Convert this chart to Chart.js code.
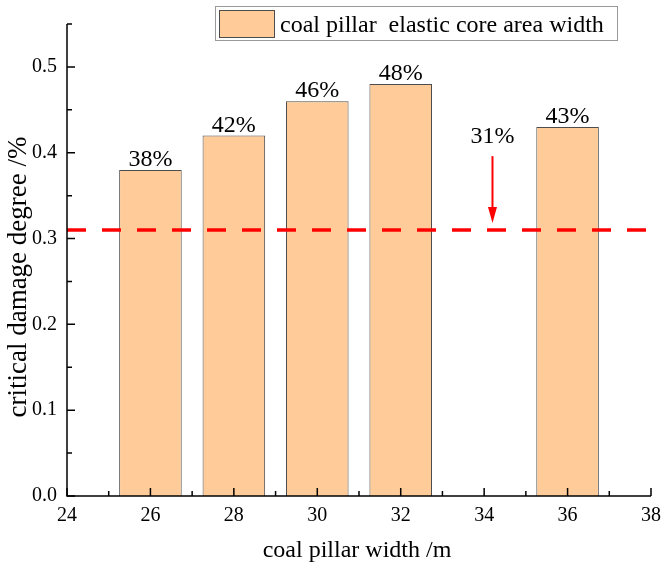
<!DOCTYPE html>
<html>
<head>
<meta charset="utf-8">
<script src="https://cdn.jsdelivr.net/npm/chart.js@4"></script>
<style>
    html, body {margin: 0; padding: 0; background: #fff;}
    canvas {display: block;}
</style>
</head>
<body>
<canvas id="chart" width="669" height="567"></canvas>
<script>
/* ============ Data ============ */
const pillarWidths = [26, 28, 30, 32, 36];
const damageDegree = [0.38, 0.42, 0.46, 0.48, 0.43];
const thresholdDegree = 0.31;
const xRange = [24, 38];
const yRange = [0, 0.55];
// arrow pointing at the threshold line (x, from y, to y, label y)
const arrowX = 34.2;
const arrowFromY = 0.396;
const arrowToY = 0.318;
const arrowLabelY = 0.411;

const seriesLabel = "coal pillar  elastic core area width";
const xTitle = "coal pillar width /m";
const yTitle = "critical damage degree /%";

/* ============ Style ============ */
const SERIF = "'Liberation Serif', 'Times New Roman', serif";
const BAR_FILL = "#ffcc99";
const BAR_EDGE = "#4d4d4d";
const RED = "#ff0000";
const pct = v => Math.round(v * 100) + "%";

Chart.defaults.font.family = SERIF;
Chart.defaults.color = "#000";

/* ============ Plugin: axes, labels, arrow, legend ============ */
const decorations = {
    id: "decorations",
    afterDatasetsDraw(chart) {
        const {ctx, chartArea: a, scales: {x, y}} = chart;
        ctx.save();

        // value labels on top of bars
        ctx.fillStyle = "#000";
        ctx.font = "24px " + SERIF;
        ctx.textAlign = "center";
        ctx.textBaseline = "alphabetic";
        chart.getDatasetMeta(0).data.forEach((bar, i) => {
            ctx.fillText(pct(damageDegree[i]), bar.x, bar.y - 4);
        });

        // arrow + threshold label
        const ax = x.getPixelForValue(arrowX);
        const y0 = y.getPixelForValue(arrowFromY);
        const y1 = y.getPixelForValue(arrowToY);
        ctx.strokeStyle = RED;
        ctx.fillStyle = RED;
        ctx.lineWidth = 2;
        ctx.beginPath();
        ctx.moveTo(ax, y0);
        ctx.lineTo(ax, y1 - 14);
        ctx.stroke();
        ctx.beginPath();
        ctx.moveTo(ax - 4.5, y1 - 16);
        ctx.lineTo(ax + 4.5, y1 - 16);
        ctx.lineTo(ax, y1);
        ctx.closePath();
        ctx.fill();
        ctx.fillStyle = "#000";
        ctx.fillText(pct(thresholdDegree), ax, y.getPixelForValue(arrowLabelY));

        // axis lines
        ctx.strokeStyle = "#000";
        ctx.lineWidth = 1.5;
        ctx.beginPath();
        ctx.moveTo(a.left, a.top);
        ctx.lineTo(a.left, a.bottom);
        ctx.lineTo(a.right, a.bottom);
        ctx.stroke();

        // inward ticks: majors from the scale, minors halfway between
        ctx.beginPath();
        x.ticks.forEach((t, i) => {
            const px = x.getPixelForValue(t.value);
            ctx.moveTo(px, a.bottom);
            ctx.lineTo(px, a.bottom - 8);
            if (i < x.ticks.length - 1) {
                const mx = x.getPixelForValue((t.value + x.ticks[i + 1].value) / 2);
                ctx.moveTo(mx, a.bottom);
                ctx.lineTo(mx, a.bottom - 5);
            }
        });
        y.ticks.forEach((t, i) => {
            const py = y.getPixelForValue(t.value);
            const isMajor = Math.abs(t.value * 10 - Math.round(t.value * 10)) < 1e-6;
            ctx.moveTo(a.left, py);
            ctx.lineTo(a.left + (isMajor ? 8 : 5), py);
            if (i < y.ticks.length - 1 && isMajor) {
                const my = y.getPixelForValue(t.value + 0.05);
                ctx.moveTo(a.left, my);
                ctx.lineTo(a.left + 5, my);
            }
        });
        ctx.stroke();

        // axis titles
        ctx.fillStyle = "#000";
        ctx.textAlign = "center";
        ctx.font = "24px " + SERIF;
        ctx.fillText(xTitle, (a.left + a.right) / 2 - 2, 557);
        ctx.save();
        ctx.translate(26, (a.top + a.bottom) / 2 + 17);
        ctx.rotate(-Math.PI / 2);
        ctx.font = "27px " + SERIF;
        ctx.fillText(yTitle, 0, 0);
        ctx.restore();

        // legend box
        ctx.fillStyle = "#fff";
        ctx.fillRect(215, 6, 402, 34);
        ctx.strokeStyle = "#999";
        ctx.lineWidth = 1;
        ctx.strokeRect(215.5, 6.5, 402, 34);
        ctx.fillStyle = BAR_FILL;
        ctx.fillRect(219, 10, 55, 27);
        ctx.strokeStyle = BAR_EDGE;
        ctx.strokeRect(219.5, 10.5, 55, 27);
        ctx.fillStyle = "#000";
        ctx.textAlign = "left";
        ctx.font = "24px " + SERIF;
        ctx.fillText(chart.data.datasets[0].label, 280, 32);

        ctx.restore();
    }
};

/* ============ Chart ============ */
function drawChart() {
    new Chart(document.getElementById("chart"), {
        type: "bar",
        data: {
            datasets: [
                {
                    type: "bar",
                    label: seriesLabel,
                    data: pillarWidths.map((w, i) => ({x: w, y: damageDegree[i]})),
                    backgroundColor: BAR_FILL,
                    borderColor: BAR_EDGE,
                    borderWidth: 1,
                    barPercentage: 0.75,
                    categoryPercentage: 1.0,
                    order: 2
                },
                {
                    type: "line",
                    label: "threshold",
                    data: xRange.map(v => ({x: v, y: thresholdDegree})),
                    borderColor: RED,
                    borderWidth: 3.5,
                    borderDash: [19, 16],
                    pointRadius: 0,
                    fill: false,
                    order: 1
                }
            ]
        },
        options: {
            responsive: false,
            animation: false,
            layout: {padding: {top: 24, right: 16, left: 0, bottom: 0}},
            plugins: {legend: {display: false}, tooltip: {enabled: false}},
            scales: {
                x: {
                    type: "linear",
                    min: xRange[0],
                    max: xRange[1],
                    offset: false,
                    grid: {display: false, drawTicks: false, offset: false},
                    border: {display: false},
                    ticks: {stepSize: 2, padding: 8, color: "#000", font: {family: SERIF, size: 20}},
                    afterFit: s => { s.height = 71; }
                },
                y: {
                    type: "linear",
                    min: yRange[0],
                    max: yRange[1],
                    grid: {display: false, drawTicks: false},
                    border: {display: false},
                    ticks: {
                        stepSize: 0.1,
                        padding: 10,
                        color: "#000",
                        font: {family: SERIF, size: 20},
                        callback: v => Math.abs(v * 10 - Math.round(v * 10)) < 1e-6 ? v.toFixed(1) : ""
                    },
                    afterFit: s => { s.width = 67; }
                }
            }
        },
        plugins: [decorations]
    });
}

// make sure the serif face is ready before the single (non-animated) draw
Promise.all([
    document.fonts.load("20px 'Liberation Serif'"),
    document.fonts.load("24px 'Liberation Serif'")
]).then(drawChart, drawChart);
</script>
</body>
</html>
